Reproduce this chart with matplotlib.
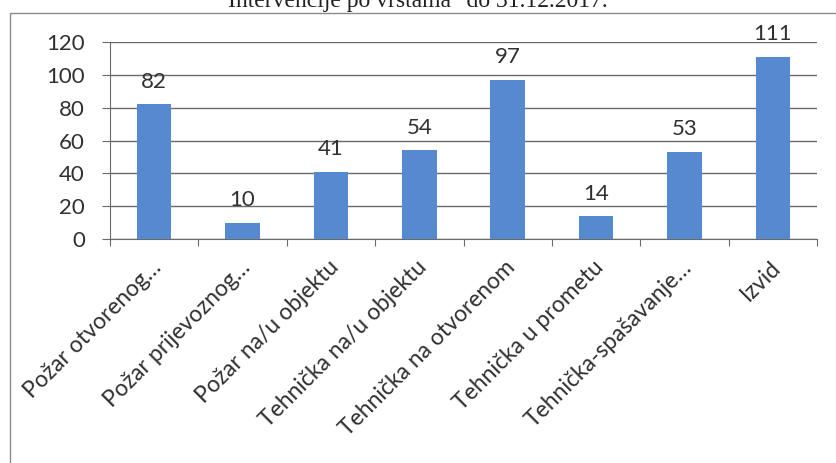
import matplotlib.pyplot as plt
from matplotlib.patches import Rectangle

categories = ["Požar otvorenog…", "Požar prijevoznog…", "Požar na/u objektu",
              "Tehnička na/u objektu", "Tehnička na otvorenom", "Tehnička u prometu",
              "Tehnička-spašavanje…", "Izvid"]
values = [82, 10, 41, 54, 97, 14, 53, 111]
yticks = [0, 20, 40, 60, 80, 100, 120]
title = 'Intervencije po vrstama" do 31.12.2017.'

W, H = 836, 463
fig = plt.figure(figsize=(W / 100, H / 100), dpi=100)
ax = fig.add_axes([110 / W, 1 - 239 / H, (817 - 110) / W, (239 - 42) / H])

# outer chart frame (runs past the image edges, like the scan)
fig.patches.append(Rectangle((10 / W, -0.2), 1.2, 1.2 - 13 / H,
                             transform=fig.transFigure, fill=False,
                             edgecolor="#8a8a8a", linewidth=1.0))

x = range(len(values))
ax.bar(x, values, width=0.39, color="#5589d0", zorder=3)
for i, v in enumerate(values):
    ax.annotate(str(v), (i, v), xytext=(0, 9), textcoords="offset points",
                ha="center", va="bottom", fontsize=16, color="#303030",
                family="Lato")

ax.set_xlim(-0.5, len(values) - 0.5)
ax.set_ylim(0, 120)
ax.set_yticks(yticks)
ax.set_yticklabels([str(t) for t in yticks], fontsize=16, color="#303030",
                   family="Lato")
ax.grid(axis="y", color="#6a6a6a", linewidth=1.0, zorder=0)
ax.set_axisbelow(True)

ax.set_xticks([i - 0.5 for i in range(len(values) + 1)])
ax.set_xticklabels([])
ax.tick_params(axis="x", direction="out", length=5, color="#6a6a6a")
ax.tick_params(axis="y", direction="out", length=6, color="#6a6a6a", pad=12)
for i, c in enumerate(categories):
    ax.annotate(c, (i, 0), xytext=(3, -18), textcoords="offset points",
                rotation=45, ha="right", va="center", rotation_mode="anchor",
                fontsize=16.5, color="#303030", family="Lato")

for s in ["top", "right"]:
    ax.spines[s].set_visible(False)
ax.spines["left"].set_color("#6a6a6a")
ax.spines["bottom"].set_color("#6a6a6a")

fig.text(0.5, 1 - 2 / H, title, ha="center", va="center", fontsize=17,
         family="Liberation Serif", color="#202020")

fig.savefig("out.png", dpi=100)
